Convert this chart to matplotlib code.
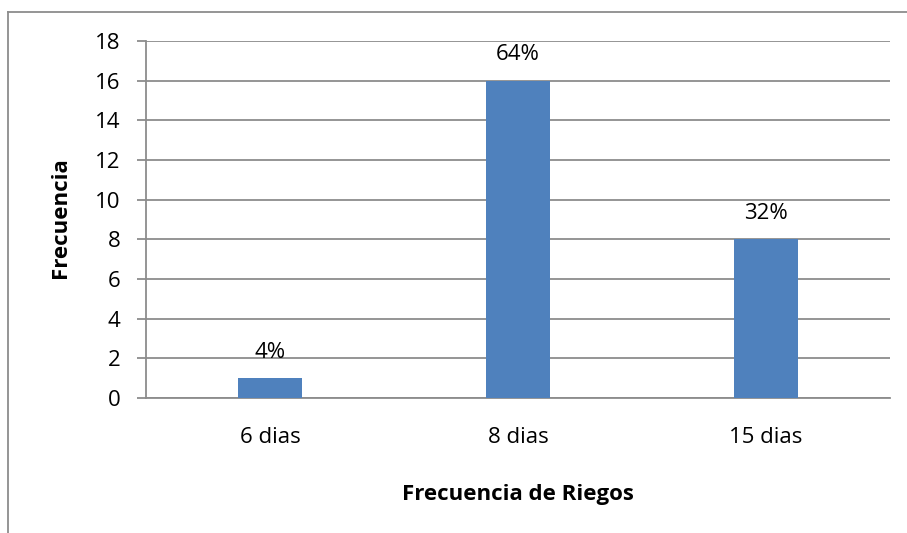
import matplotlib.pyplot as plt
from matplotlib.lines import Line2D

categories = ["6 dias", "8 dias", "15 dias"]
values = [1, 16, 8]
labels = ["4%", "64%", "32%"]

plt.rcParams["font.family"] = ["Open Sans", "DejaVu Sans"]

fig = plt.figure(figsize=(9.07, 5.33), dpi=100)
ax = fig.add_axes([146 / 907, 1 - 398 / 533, 744 / 907, 357 / 533])

x = range(len(categories))
ax.bar(x, values, width=0.255, color="#4f81bd", zorder=3)
for i, (v, lab) in enumerate(zip(values, labels)):
    ax.annotate(lab, (i, v), xytext=(0, 11), textcoords="offset points",
                ha="center", va="bottom", fontsize=16)

ax.set_xlim(-0.5, 2.5)
ax.set_ylim(0, 18)
ax.set_yticks(range(0, 19, 2))
ax.set_xticks(list(x))
ax.set_xticklabels(categories)
ax.grid(axis="y", color="#8c8c8c", linewidth=1.3, zorder=0)
ax.tick_params(axis="y", length=6.5, color="#8c8c8c", width=1.3, labelsize=16, pad=12)
ax.tick_params(axis="x", length=0, labelsize=16, pad=21)
for side in ["top", "right"]:
    ax.spines[side].set_visible(False)
for side in ["left", "bottom"]:
    ax.spines[side].set_color("#8c8c8c")
    ax.spines[side].set_linewidth(1.3)

ax.set_xlabel("Frecuencia de Riegos", fontsize=16, fontweight="bold", labelpad=26)
fig.text(61 / 907, 1 - 218 / 533, "Frecuencia", rotation=90, fontsize=16,
         fontweight="bold", ha="center", va="center")

# outer chart border (top and left visible)
fig.add_artist(Line2D([8 / 907, 1.0], [1 - 12 / 533, 1 - 12 / 533],
                      transform=fig.transFigure, color="#8c8c8c", linewidth=1.3))
fig.add_artist(Line2D([8 / 907, 8 / 907], [0.0, 1 - 12 / 533],
                      transform=fig.transFigure, color="#8c8c8c", linewidth=1.3))

fig.savefig("out.png", dpi=100)
